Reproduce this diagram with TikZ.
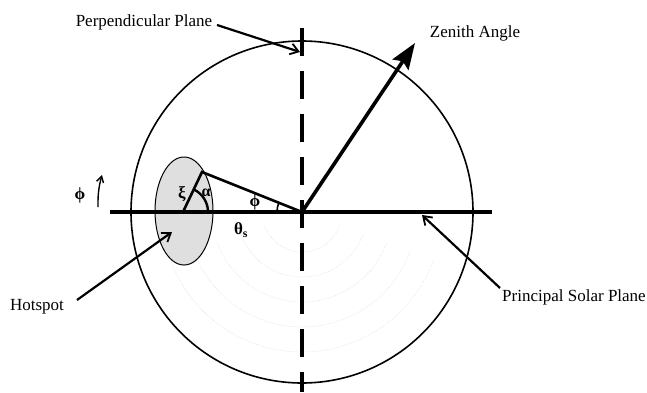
\documentclass[tikz,border=0pt]{standalone}
\usepackage{fontspec}
\setmainfont{Liberation Serif}
\usetikzlibrary{arrows.meta,calc,shapes.geometric}
\tikzset{
  lbl/.style={inner sep=0pt, font=\fontsize{17}{19}\selectfont},
  greek/.style={inner sep=0pt, font=\fontsize{17}{19}\selectfont\bfseries},
  pointer/.style={line width=2.2pt, -{Straight Barb[length=8pt,width=11pt,line width=1.8pt]}},
  thickline/.style={line width=3.3pt},
  faint/.style={gray!30, densely dotted, line width=0.5pt}
}
\begin{document}
\begin{tikzpicture}[x=1pt,y=1pt]
\useasboundingbox (0,0) rectangle (647,392);
% centre and points
\coordinate (C) at (302,180);
\coordinate (A) at (183,180);
\coordinate (B) at (202,220);
% faint concentric arcs (lower half)
\foreach \r in {40,65,90,115,140}
  \draw[faint] ($(C)+(200:\r)$) arc[start angle=200, end angle=340, radius=\r];
% main circle
\draw[line width=1.6pt] (C) circle[radius=171];
% hotspot ellipse
\node[draw, line width=1pt, fill=gray!25, ellipse, minimum width=58pt, minimum height=108pt, inner sep=0pt] (hot) at (184,181) {};
% principal solar plane
\coordinate (PL) at (110,180);
\coordinate (PR) at (492,180);
\draw[thickline] (PL) -- (PR);
% perpendicular plane dashed
\coordinate (VT) at (302,364);
\coordinate (VB) at (302,0);
\draw[thickline, dash pattern=on 28pt off 15pt] (VT) -- (VB);
% zenith arrow
\coordinate (ZT) at (415,349);
\draw[line width=3.6pt, -{Stealth[length=26pt,width=19pt,inset=4pt]}] (C) -- (ZT);
% hotspot geometry
\draw[line width=2.6pt] (A) -- (B) -- (C);
\draw[line width=2.4pt] ($(A)+(25,0)$) arc[start angle=0, end angle=64.6, radius=25];
\draw[line width=1.6pt] ($(C)+(-25,0)$) arc[start angle=180, end angle=158.2, radius=25];
% labels
\node[greek] (xi) at (182,198) {ξ};
\node[greek, font=\fontsize{16}{18}\selectfont\bfseries] (al) at (206,199) {α};
\node[greek] (ph) at (255,190) {ϕ};
\node[greek] (th) at (241,162) {θ\textsubscript{s}};
\node[greek] (ph2) at (80,197) {ϕ};
\coordinate (pa1) at (98,185);
\coordinate (pa2) at (102,217);
\draw[line width=1.4pt, -{Straight Barb[length=6pt,width=7pt]}] (pa1) to[bend left=8] (pa2);
% text labels and pointers
\node[lbl] (perp) at (144,370) {Perpendicular Plane};
\coordinate (perpT) at (300,340);
\draw[pointer] (217,367) -- (perpT);
\node[lbl] (zen) at (475,359) {Zenith Angle};
\node[lbl] (hs) at (37,85) {Hotspot};
\coordinate (hsT) at (172,160);
\draw[pointer] (77,92) -- (hsT);
\node[lbl] (pss) at (574,95) {Principal Solar Plane};
\coordinate (pssT) at (422,177);
\draw[pointer] (500,104) -- (pssT);
\end{tikzpicture}
\end{document}
